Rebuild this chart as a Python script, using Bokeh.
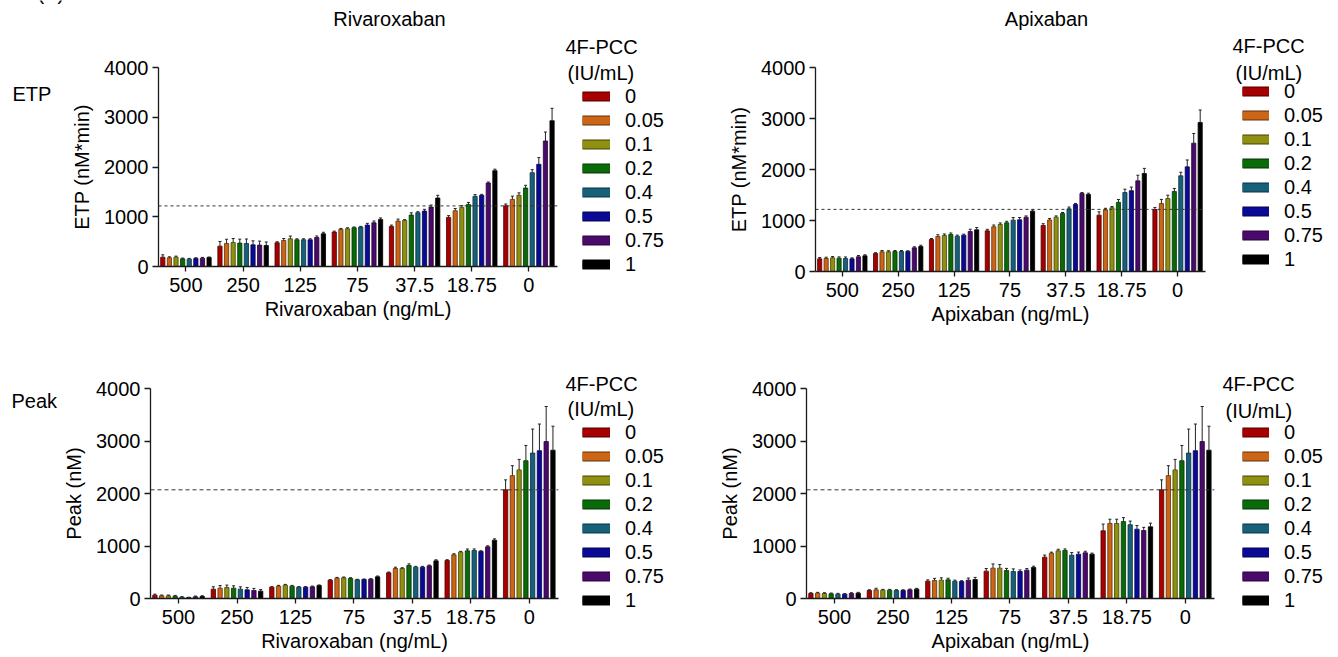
from bokeh.plotting import figure
from bokeh.models import (Range1d, FixedTicker, Span, Whisker, TeeHead,
                          ColumnDataSource, Legend, LegendItem, Label)
from bokeh.layouts import column, row
from bokeh.embed import file_html
from bokeh.resources import INLINE

# ---------------- data ----------------
concentrations = ["500", "250", "125", "75", "37.5", "18.75", "0"]
pcc_levels = ["0", "0.05", "0.1", "0.2", "0.4", "0.5", "0.75", "1"]
pcc_colors = ["#A80000", "#CC6616", "#8F8F12", "#0A6A0A",
              "#17607A", "#0A0A96", "#4A0A6C", "#000000"]
pcc_edges = ["#4A0000", "#5E3008", "#454506", "#043204",
             "#0A3040", "#04044A", "#240434", "#000000"]

etp_rivaroxaban = [
    [188, 175, 188, 154, 148, 161, 168, 181],
    [409, 463, 483, 470, 463, 436, 430, 423],
    [477, 523, 557, 537, 537, 537, 584, 658],
    [691, 745, 758, 779, 792, 832, 879, 946],
    [805, 913, 926, 1034, 1081, 1114, 1195, 1376],
    [987, 1121, 1188, 1248, 1409, 1430, 1678, 1926],
    [1221, 1349, 1430, 1577, 1886, 2054, 2523, 2930],
]
etp_rivaroxaban_err = [
    [47, 20, 20, 15, 15, 15, 15, 10],
    [94, 85, 80, 80, 90, 80, 80, 70],
    [20, 40, 55, 20, 20, 20, 30, 30],
    [20, 20, 20, 15, 15, 35, 35, 30],
    [27, 40, 15, 45, 20, 35, 40, 55],
    [35, 45, 35, 40, 35, 20, 20, 30],
    [35, 65, 50, 55, 60, 135, 180, 250],
]
etp_apixaban = [
    [248, 255, 268, 261, 255, 248, 288, 307],
    [353, 386, 386, 392, 392, 392, 464, 490],
    [627, 686, 706, 725, 693, 712, 784, 817],
    [797, 876, 922, 954, 1007, 1013, 1065, 1183],
    [902, 1010, 1065, 1137, 1229, 1314, 1529, 1510],
    [1105, 1209, 1250, 1356, 1549, 1585, 1778, 1922],
    [1216, 1333, 1431, 1569, 1876, 2052, 2516, 2922],
]
etp_apixaban_err = [
    [25, 25, 25, 25, 30, 20, 25, 20],
    [15, 25, 20, 20, 20, 15, 20, 25],
    [20, 35, 30, 30, 20, 20, 45, 45],
    [30, 35, 30, 30, 50, 45, 25, 25],
    [35, 30, 25, 20, 35, 20, 20, 25],
    [65, 30, 25, 55, 65, 70, 110, 100],
    [40, 80, 65, 60, 70, 135, 190, 245],
]
peak_rivaroxaban = [
    [63, 51, 51, 44, 25, 19, 32, 38],
    [178, 197, 210, 197, 178, 165, 152, 140],
    [216, 235, 254, 235, 216, 216, 222, 248],
    [349, 387, 394, 381, 356, 362, 368, 413],
    [489, 571, 571, 629, 597, 597, 622, 717],
    [724, 832, 883, 908, 914, 895, 984, 1111],
    [2070, 2340, 2450, 2625, 2770, 2815, 2990, 2825],
]
peak_rivaroxaban_err = [
    [20, 15, 15, 15, 10, 5, 15, 15],
    [45, 50, 45, 45, 45, 45, 40, 30],
    [10, 15, 15, 15, 10, 10, 15, 10],
    [10, 15, 15, 15, 10, 10, 10, 15],
    [15, 25, 15, 30, 15, 15, 15, 20],
    [15, 20, 15, 35, 30, 15, 20, 25],
    [190, 190, 200, 290, 457, 508, 667, 457],
]
peak_apixaban = [
    [95, 102, 95, 89, 83, 83, 95, 102],
    [152, 165, 159, 159, 152, 152, 165, 178],
    [330, 343, 349, 356, 330, 324, 349, 362],
    [521, 578, 578, 533, 514, 514, 540, 590],
    [787, 863, 908, 914, 825, 844, 870, 844],
    [1290, 1430, 1430, 1465, 1405, 1320, 1295, 1365],
    [2070, 2340, 2450, 2625, 2770, 2815, 2990, 2825],
]
peak_apixaban_err = [
    [15, 15, 15, 15, 15, 10, 15, 15],
    [15, 30, 15, 15, 15, 15, 15, 15],
    [25, 40, 45, 30, 20, 15, 40, 40],
    [50, 80, 70, 40, 50, 30, 30, 25],
    [40, 20, 30, 30, 50, 40, 30, 20],
    [127, 80, 80, 75, 70, 70, 60, 70],
    [190, 190, 200, 290, 457, 508, 667, 457],
]
etp_reference = 1218
peak_reference = 2070
y_ticks = [0, 1000, 2000, 3000, 4000]

# ---------------- styling ----------------
FONT = "Liberation Sans"
FS = "20px"
BAR_STEP = 0.1157
BAR_W = 0.074
AXIS_COLOR = "#1a1a1a"
PAGE_W, PAGE_H = 1338, 657


def bar_source(values, errors):
    d = dict(x=[], top=[], upper=[], fill=[], edge=[])
    for g, (vals, errs) in enumerate(zip(values, errors)):
        for i, (v, e) in enumerate(zip(vals, errs)):
            d["x"].append(g + (i - 3.5) * BAR_STEP)
            d["top"].append(v)
            d["upper"].append(v + e)
            d["fill"].append(pcc_colors[i])
            d["edge"].append(pcc_edges[i])
    return ColumnDataSource(d)


def panel(values, errors, ref, ref_dash, ylabel, xlabel, geo):
    fl, ft, fw, fh, ox, oy, W, H = geo
    p = figure(frame_width=fw, frame_height=fh,
               min_border_left=fl - ox, min_border_right=W - (fl - ox) - fw,
               min_border_top=ft - oy, min_border_bottom=H - (ft - oy) - fh,
               x_range=Range1d(-0.48, 6.5), y_range=Range1d(0, 4000),
               output_backend="svg", toolbar_location=None, title=None,
               background_fill_color="white", border_fill_color="white")
    p.outline_line_color = None
    p.xgrid.visible = False
    p.ygrid.visible = False

    src = bar_source(values, errors)
    p.vbar(x="x", top="top", bottom=0, width=BAR_W, source=src,
           fill_color="fill", line_color="edge", line_width=0.8)
    p.add_layout(Whisker(source=src, base="x", lower="top", upper="upper",
                         dimension="height", line_color="#222222", line_width=1,
                         upper_head=TeeHead(size=3, line_color="#222222", line_width=1),
                         lower_head=None, level="overlay"))
    p.add_layout(Span(location=ref, dimension="width", line_color="#333333",
                      line_width=1, line_dash=ref_dash))

    for ax in (p.xaxis[0], p.yaxis[0]):
        ax.axis_line_color = AXIS_COLOR
        ax.axis_line_width = 1.3
        ax.major_tick_line_color = AXIS_COLOR
        ax.major_tick_line_width = 1.3
        ax.major_tick_in = 0
        ax.minor_tick_line_color = None
        ax.major_label_text_font = FONT
        ax.major_label_text_font_size = FS
        ax.major_label_text_color = "black"
        ax.axis_label_text_font = FONT
        ax.axis_label_text_font_size = FS
        ax.axis_label_text_font_style = "normal"
        ax.axis_label_text_color = "black"
    p.yaxis.ticker = FixedTicker(ticks=y_ticks)
    p.yaxis.major_tick_out = 6
    p.yaxis.major_label_standoff = 4
    p.yaxis.axis_label = ylabel
    p.yaxis.axis_label_standoff = 8
    p.xaxis.ticker = FixedTicker(ticks=list(range(len(concentrations))))
    p.xaxis.major_label_overrides = {i: c for i, c in enumerate(concentrations)}
    p.xaxis.major_tick_out = 5
    p.xaxis.major_label_standoff = 6
    p.xaxis.axis_label = xlabel
    p.xaxis.axis_label_standoff = 3
    return p


p_tl = panel(etp_rivaroxaban, etp_rivaroxaban_err, etp_reference, "3 3",
             "ETP (nM*min)", "Rivaroxaban (ng/mL)",
             (158, 67, 399, 199, 0, 0, 669, 330))
p_tr = panel(etp_apixaban, etp_apixaban_err, etp_reference, "3 3",
             "ETP (nM*min)", "Apixaban (ng/mL)",
             (815, 60, 390, 204, 669, 0, 669, 330))
p_bl = panel(peak_rivaroxaban, peak_rivaroxaban_err, peak_reference, "4 3",
             "Peak (nM)", "Rivaroxaban (ng/mL)",
             (150, 388, 408, 210, 0, 330, 669, 327))
p_br = panel(peak_apixaban, peak_apixaban_err, peak_reference, "4 3",
             "Peak (nM)", "Apixaban (ng/mL)",
             (806, 388, 408, 210, 669, 330, 669, 327))

# ------------- transparent page-sized overlay for titles and legends -------------
ov = figure(width=PAGE_W, height=PAGE_H, min_border=0,
            x_range=Range1d(0, PAGE_W), y_range=Range1d(PAGE_H, 0),
            x_axis_type=None, y_axis_type=None, output_backend="svg",
            toolbar_location=None, title=None,
            background_fill_alpha=0, border_fill_alpha=0)
ov.outline_line_color = None
ov.grid.visible = False


def add_text(text, x, y, align="left"):
    ov.add_layout(Label(x=x, y=y, text=text, text_font=FONT, text_font_size=FS,
                        text_color="black", text_align=align, text_baseline="middle"))


# legend swatch renderers (a single NaN point each, so nothing shows in the plot)
nan = float("nan")
swatch_renderers = []
for c, e in zip(pcc_colors, pcc_edges):
    r1 = ov.line(x=[nan], y=[nan], line_color=e, line_width=10)
    r2 = ov.line(x=[nan], y=[nan], line_color=c, line_width=8)
    swatch_renderers.append([r1, r2])

PITCH = 24
legend_specs = [
    (582, 96, 28, [("4F-PCC", 565, 46), ("(IU/mL)", 567, 72)]),
    (1242, 91, 27, [("4F-PCC", 1232, 45), ("(IU/mL)", 1235, 72)]),
    (582, 432, 28, [("4F-PCC", 565, 383), ("(IU/mL)", 567, 408)]),
    (1242, 432, 27, [("4F-PCC", 1222, 383), ("(IU/mL)", 1225, 410)]),
]
for sw_left, first_c, gw, heads in legend_specs:
    items = [LegendItem(label=lvl, renderers=rs)
             for lvl, rs in zip(pcc_levels, swatch_renderers)]
    bottom = first_c - PITCH / 2 + PITCH * len(pcc_levels)
    ov.add_layout(Legend(items=items, location=(sw_left, PAGE_H - bottom),
                         orientation="vertical", glyph_width=gw, glyph_height=PITCH,
                         label_height=PITCH, spacing=0, padding=0, margin=0,
                         label_standoff=15, label_text_font=FONT,
                         label_text_font_size=FS, label_text_color="black",
                         border_line_color=None, background_fill_alpha=0))
    for t, x, y in heads:
        add_text(t, x, y)

add_text("(A)", 37, -8)
add_text("Rivaroxaban", 389, 18, "center")
add_text("Apixaban", 1046, 18, "center")
add_text("ETP", 12, 93)
add_text("Peak", 11, 400)

overlay_box = row(ov, styles={"position": "absolute", "left": "0px", "top": "0px",
                              "z-index": "5"})
layout = column(row(p_tl, p_tr), row(p_bl, p_br), overlay_box)
open("out.html", "w").write(file_html(layout, INLINE))
